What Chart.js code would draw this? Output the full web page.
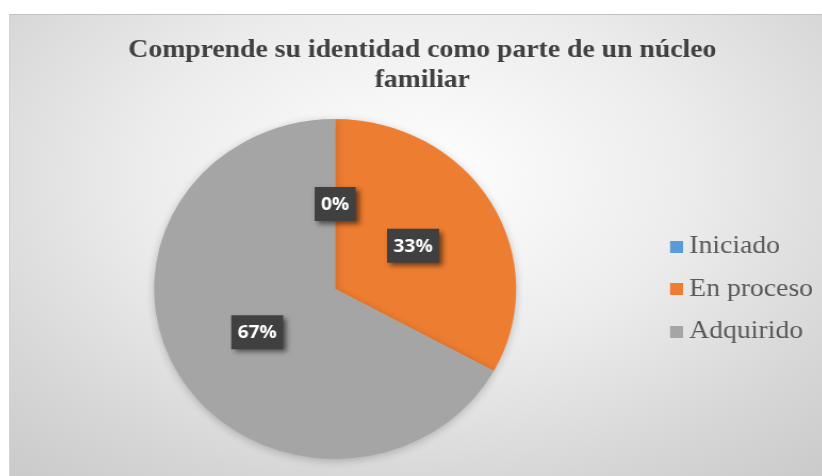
<!DOCTYPE html>
<html>
<head>
<meta charset="utf-8">
<script src="https://cdn.jsdelivr.net/npm/chart.js@4.4.1/dist/chart.umd.min.js"></script>
<style>
  html, body { margin:0; padding:0; background:#ffffff; width:822px; height:476px; overflow:hidden; }
  #frame {
    position:absolute; left:9px; top:14px; width:813px; height:462px; overflow:hidden;
    box-sizing:border-box;
    border-top:1px solid #c2c2c2; border-left:1px solid #d4d4d4;
    background: radial-gradient(ellipse 75% 85% at 50% 35%, #ffffff 0%, #ececec 45%, #d6d6d6 80%, #cbcbcb 100%);
  }
  #c { position:absolute; left:0; top:0; transform:scaleX(1.065); transform-origin:0 0; display:block; }
</style>
</head>
<body>
<div id="frame"><canvas id="c" width="764" height="462"></canvas></div>
<script>
// ---- data ----
const titleLines = ['Comprende su identidad como parte de un núcleo', 'familiar'];
const categories = ['Iniciado', 'En proceso', 'Adquirido'];
const percentages = [0, 33, 67];
const sliceColors = ['#5B9BD5', '#ED7D31', '#A5A5A5'];

const serif = '"Liberation Serif", "Times New Roman", serif';

// legend swatches: a 12px square sitting at the right end of a 22px-wide image
function makeSwatch(color) {
  const c = document.createElement('canvas');
  c.width = 22; c.height = 12;
  const g = c.getContext('2d');
  g.fillStyle = color;
  g.fillRect(10, 0, 12, 12);
  return c;
}
const swatches = sliceColors.map(makeSwatch);

// soft shadow under the pie
const pieShadow = {
  id: 'pieShadow',
  beforeDatasetsDraw(chart) {
    const ctx = chart.ctx;
    ctx.save();
    ctx.shadowColor = 'rgba(0,0,0,0.22)';
    ctx.shadowBlur = 9;
    ctx.shadowOffsetX = 0;
    ctx.shadowOffsetY = 2;
  },
  afterDatasetsDraw(chart) {
    chart.ctx.restore();
  }
};

// dark boxed percentage labels
const pctLabels = {
  id: 'pctLabels',
  afterDatasetsDraw(chart) {
    const ctx = chart.ctx;
    const meta = chart.getDatasetMeta(0);
    ctx.save();
    ctx.font = 'bold 18px "Open Sans", "DejaVu Sans", sans-serif';
    ctx.textAlign = 'center';
    ctx.textBaseline = 'middle';
    meta.data.forEach((arc, i) => {
      const p = arc.getProps(['x', 'y', 'startAngle', 'endAngle', 'outerRadius'], true);
      const mid = (p.startAngle + p.endAngle) / 2;
      const r = p.outerRadius * 0.5;
      const px = p.x + Math.cos(mid) * r;
      const py = p.y + Math.sin(mid) * r;
      const text = chart.data.datasets[0].data[i] + '%';
      const tw = ctx.measureText(text).width;
      const bw = tw + 12, bh = 34;
      ctx.shadowColor = 'rgba(0,0,0,0.55)';
      ctx.shadowBlur = 5;
      ctx.shadowOffsetX = 3;
      ctx.shadowOffsetY = 3;
      ctx.fillStyle = '#404040';
      ctx.fillRect(px - bw / 2, py - bh / 2, bw, bh);
      ctx.shadowColor = 'transparent';
      ctx.shadowBlur = 0;
      ctx.shadowOffsetX = 0;
      ctx.shadowOffsetY = 0;
      ctx.fillStyle = '#ffffff';
      ctx.fillText(text, px, py + 1);
    });
    ctx.restore();
  }
};

new Chart(document.getElementById('c'), {
  type: 'pie',
  data: {
    labels: categories,
    datasets: [{
      data: percentages,
      backgroundColor: sliceColors,
      borderWidth: 0,
      hoverOffset: 0
    }]
  },
  options: {
    responsive: false,
    animation: false,
    devicePixelRatio: 1,
    layout: { padding: { left: 10.3, right: 0, top: 0, bottom: 18 } },
    plugins: {
      tooltip: { enabled: false },
      title: {
        display: true,
        text: titleLines,
        color: '#404040',
        font: { family: serif, size: 26, weight: 'bold', lineHeight: 30 / 26 },
        padding: { top: 20, bottom: 24 }
      },
      legend: {
        position: 'right',
        fullSize: false,
        align: 'center',
        labels: {
          usePointStyle: true,
          pointStyleWidth: 8,
          boxHeight: 12,
          padding: 16.5,
          color: '#595959',
          font: { family: serif, size: 26 },
          generateLabels(chart) {
            const items = Chart.overrides.pie.plugins.legend.labels.generateLabels(chart);
            items.forEach((it, i) => { it.pointStyle = swatches[i]; });
            return items;
          }
        }
      }
    }
  },
  plugins: [pieShadow, pctLabels]
});
</script>
</body>
</html>
